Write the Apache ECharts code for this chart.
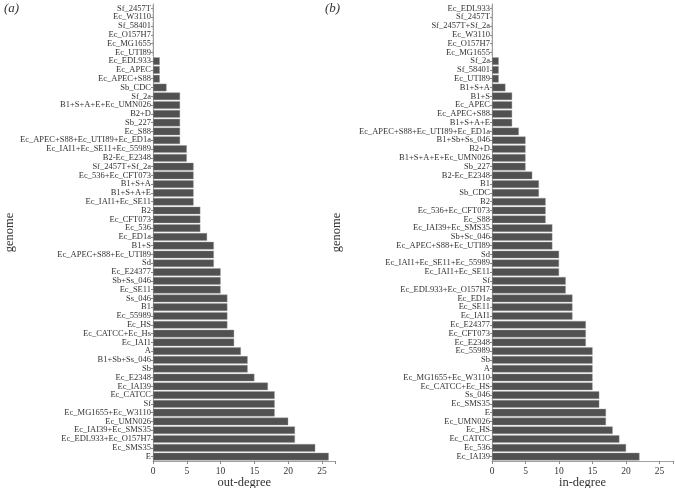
<!DOCTYPE html>
<html><head><meta charset="utf-8">
<script src="https://cdn.jsdelivr.net/npm/echarts@6/dist/echarts.min.js"></script>
<style>html,body{margin:0;padding:0;background:#fff}#c{width:675px;height:488px}</style>
</head><body><div id="c"></div>
<script>
const outCats = ["Sf_2457T","Ec_W3110","Sf_58401","Ec_O157H7","Ec_MG1655","Ec_UTI89","Ec_EDL933","Ec_APEC","Ec_APEC+S88","Sb_CDC","Sf_2a","B1+S+A+E+Ec_UMN026","B2+D","Sb_227","Ec_S88","Ec_APEC+S88+Ec_UTI89+Ec_ED1a","Ec_IAI1+Ec_SE11+Ec_55989","B2-Ec_E2348","Sf_2457T+Sf_2a","Ec_536+Ec_CFT073","B1+S+A","B1+S+A+E","Ec_IAI1+Ec_SE11","B2","Ec_CFT073","Ec_536","Ec_ED1a","B1+S","Ec_APEC+S88+Ec_UTI89","Sd","Ec_E24377","Sb+Ss_046","Ec_SE11","Ss_046","B1","Ec_55989","Ec_HS","Ec_CATCC+Ec_Hs","Ec_IAI1","A","B1+Sb+Ss_046","Sb","Ec_E2348","Ec_IAI39","Ec_CATCC","Sf","Ec_MG1655+Ec_W3110","Ec_UMN026","Ec_IAI39+Ec_SMS35","Ec_EDL933+Ec_O157H7","Ec_SMS35","E"];
const outVals = [0,0,0,0,0,0,1,1,1,2,4,4,4,4,4,4,5,5,6,6,6,6,6,7,7,7,8,9,9,9,10,10,10,11,11,11,11,12,12,13,14,14,15,17,18,18,18,20,21,21,24,26];
const inCats = ["Ec_EDL933","Sf_2457T","Sf_2457T+Sf_2a","Ec_W3110","Ec_O157H7","Ec_MG1655","Sf_2a","Sf_58401","Ec_UTI89","B1+S+A","B1+S","Ec_APEC","Ec_APEC+S88","B1+S+A+E","Ec_APEC+S88+Ec_UTI89+Ec_ED1a","B1+Sb+Ss_046","B2+D","B1+S+A+E+Ec_UMN026","Sb_227","B2-Ec_E2348","B1","Sb_CDC","B2","Ec_536+Ec_CFT073","Ec_S88","Ec_IAI39+Ec_SMS35","Sb+Sc_046","Ec_APEC+S88+Ec_UTI89","Sd","Ec_IAI1+Ec_SE11+Ec_55989","Ec_IAI1+Ec_SE11","Sf","Ec_EDL933+Ec_O157H7","Ec_ED1a","Ec_SE11","Ec_IAI1","Ec_E24377","Ec_CFT073","Ec_E2348","Ec_55989","Sb","A","Ec_MG1655+Ec_W3110","Ec_CATCC+Ec_HS","Ss_046","Ec_SMS35","E","Ec_UMN026","Ec_HS","Ec_CATCC","Ec_536","Ec_IAI39"];
const inVals = [0,0,0,0,0,0,1,1,1,2,3,3,3,3,4,5,5,5,5,6,7,7,8,8,8,9,9,9,10,10,10,11,11,12,12,12,14,14,14,15,15,15,15,15,16,16,17,17,18,19,20,22];
const xTicks = [0,5,10,15,20,25];

const font = "'Liberation Serif','DejaVu Serif',serif";
const txt = '#333';
const axisCol = '#888';

function xAxisCfg(idx, name){
  return {gridIndex: idx, type:'value', min:0, max:27, interval:5, name:name,
    nameLocation:'middle', nameGap:15, nameMoveOverlap:false,
    nameTextStyle:{fontFamily:font, fontSize:12.5, color:txt},
    axisLine:{show:true, lineStyle:{color:axisCol, width:0.8}},
    axisTick:{show:true, length:3, lineStyle:{color:axisCol}},
    axisLabel:{fontFamily:font, fontSize:9.5, color:txt, margin:5,
      formatter: v => xTicks.indexOf(v) >= 0 ? String(v) : ''},
    splitLine:{show:false}};
}
function yAxisCfg(idx, cats, gap){
  return {gridIndex: idx, type:'category', data:cats, inverse:true,
    name:'genome', nameLocation:'middle', nameGap:gap, nameRotate:90, nameMoveOverlap:false,
    nameTextStyle:{fontFamily:font, fontSize:12.5, color:txt},
    axisLine:{show:true, lineStyle:{color:axisCol, width:0.8}},
    axisTick:{show:true, length:2, alignWithLabel:true, lineStyle:{color:axisCol}},
    axisLabel:{fontFamily:font, fontSize:8.5, color:txt, margin:2, interval:0}};
}
const barStyle = {color:'#515151', borderColor:'#9a9a9a', borderWidth:0.4};

const chart = echarts.init(document.getElementById('c'), null, {renderer:'canvas'});
chart.setOption({
  animation:false,
  backgroundColor:'#fff',
  grid:[
    {left:153, top:4, width:182.5, bottom:27, containLabel:false, outerBoundsMode:'none'},
    {left:492, top:4, width:181, bottom:27, containLabel:false, outerBoundsMode:'none'}
  ],
  xAxis:[xAxisCfg(0,'out-degree'), xAxisCfg(1,'in-degree')],
  yAxis:[yAxisCfg(0,outCats,137), yAxisCfg(1,inCats,149)],
  series:[
    {type:'bar', xAxisIndex:0, yAxisIndex:0, data:outVals, barCategoryGap:'14%', itemStyle:barStyle},
    {type:'bar', xAxisIndex:1, yAxisIndex:1, data:inVals, barCategoryGap:'14%', itemStyle:barStyle}
  ],
  graphic:[
    {type:'text', left:4, top:2, style:{text:'(a)', font:"italic 13px "+font, fill:txt}},
    {type:'text', left:325, top:2, style:{text:'(b)', font:"italic 13px "+font, fill:txt}}
  ]
});
</script></body></html>
